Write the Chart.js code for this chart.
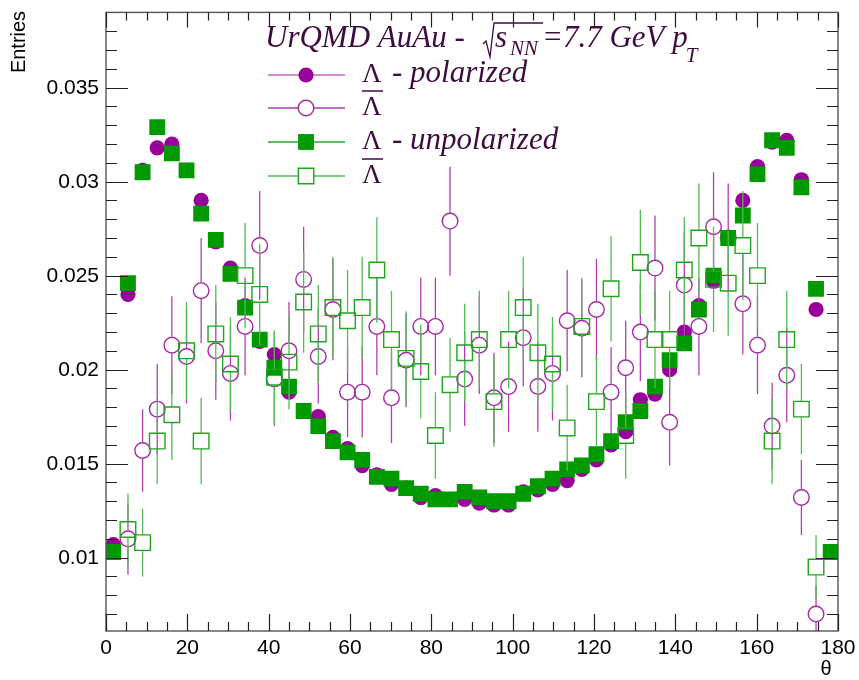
<!DOCTYPE html>
<html>
<head>
<meta charset="utf-8">
<script src="https://cdn.jsdelivr.net/npm/chart.js@4.4.0/dist/chart.umd.min.js"></script>
<style>
  html, body { margin: 0; padding: 0; background: #fff; }
  #wrap { width: 859px; height: 680px; }
</style>
</head>
<body>
<div id="wrap"><canvas id="chart" width="859" height="680"></canvas></div>
<script>
// Histogram binning: 50 bins over theta 0..180
const nBins = 50
const thetaMin = 0
const thetaMax = 180

// Lambda, polarized (filled circles)
const lambdaPol = [
  0.0107, 0.0240, 0.0306, 0.0318, 0.0320, 0.0306, 0.0290, 0.0268, 0.0254, 0.0234,
  0.0215, 0.0208, 0.0188, 0.0178, 0.0175, 0.0164, 0.0158, 0.0149, 0.0144, 0.0139,
  0.0137, 0.0132, 0.0133, 0.0131, 0.0131, 0.0129, 0.0128, 0.0128, 0.0135, 0.0136,
  0.0139, 0.0141, 0.0147, 0.0152, 0.0160, 0.0167, 0.0184, 0.0187, 0.0200, 0.0220,
  0.0234, 0.0247, 0.0270, 0.0290, 0.0308, 0.0321, 0.0322, 0.0301, 0.0232, 0.0103
]

// Anti-lambda, polarized (open circles); edge bins are empty
const antiLambdaPol = [
  null, 0.0110, 0.0157, 0.0179, 0.0213, 0.0207, 0.0242, 0.0210, 0.0198, 0.0223,
  0.0266, 0.0195, 0.0210, 0.0248, 0.0207, 0.0232, 0.0188, 0.0188, 0.0223, 0.0185,
  0.0205, 0.0223, 0.0223, 0.0279, 0.0195, 0.0213, 0.0185, 0.0191, 0.0217, 0.0191,
  0.0198, 0.0226, 0.0222, 0.0232, 0.0188, 0.0201, 0.0220, 0.0254, 0.0172, 0.0245,
  0.0223, 0.0276, 0.0270, 0.0235, 0.0213, 0.0170, 0.0197, 0.0132, 0.0070, null
]
const antiLambdaPolErr = [
  0, 0.0019, 0.0022, 0.0024, 0.0026, 0.0025, 0.0028, 0.0026, 0.0025, 0.0026,
  0.0029, 0.0025, 0.0026, 0.0028, 0.0025, 0.0027, 0.0024, 0.0024, 0.0026, 0.0024,
  0.0025, 0.0026, 0.0026, 0.0029, 0.0025, 0.0026, 0.0024, 0.0024, 0.0026, 0.0024,
  0.0025, 0.0027, 0.0026, 0.0027, 0.0024, 0.0025, 0.0026, 0.0028, 0.0023, 0.0028,
  0.0026, 0.0029, 0.0029, 0.0027, 0.0026, 0.0023, 0.0025, 0.0020, 0.0015, 0
]

// Lambda, unpolarized (filled squares)
const lambdaUnpol = [
  0.0103, 0.0246, 0.0305, 0.0329, 0.0315, 0.0306, 0.0283, 0.0269, 0.0251, 0.0233,
  0.0216, 0.0201, 0.0191, 0.0178, 0.0170, 0.0162, 0.0156, 0.0152, 0.0143, 0.0142,
  0.0137, 0.0134, 0.0131, 0.0131, 0.0135, 0.0132, 0.0130, 0.0130, 0.0134, 0.0138,
  0.0142, 0.0147, 0.0149, 0.0155, 0.0162, 0.0172, 0.0178, 0.0191, 0.0205, 0.0214,
  0.0232, 0.0250, 0.0270, 0.0282, 0.0304, 0.0322, 0.0318, 0.0297, 0.0243, 0.0103
]

// Anti-lambda, unpolarized (open squares); edge bins are empty
const antiLambdaUnpol = [
  null, 0.0115, 0.0108, 0.0162, 0.0176, 0.0210, 0.0162, 0.0219, 0.0203, 0.0250,
  0.0240, 0.0196, 0.0204, 0.0236, 0.0219, 0.0233, 0.0226, 0.0233, 0.0253, 0.0216,
  0.0206, 0.0199, 0.0165, 0.0192, 0.0209, 0.0216, 0.0183, 0.0216, 0.0233, 0.0209,
  0.0203, 0.0169, 0.0223, 0.0183, 0.0243, 0.0165, 0.0257, 0.0216, 0.0216, 0.0253,
  0.0270, 0.0248, 0.0246, 0.0266, 0.0250, 0.0162, 0.0216, 0.0179, 0.0095, null
]
const antiLambdaUnpolErr = [
  0, 0.0019, 0.0018, 0.0023, 0.0024, 0.0026, 0.0023, 0.0026, 0.0025, 0.0028,
  0.0027, 0.0025, 0.0025, 0.0027, 0.0026, 0.0027, 0.0027, 0.0027, 0.0028, 0.0026,
  0.0025, 0.0025, 0.0023, 0.0025, 0.0026, 0.0026, 0.0024, 0.0026, 0.0027, 0.0026,
  0.0025, 0.0023, 0.0026, 0.0024, 0.0028, 0.0023, 0.0028, 0.0026, 0.0026, 0.0028,
  0.0029, 0.0028, 0.0028, 0.0029, 0.0028, 0.0023, 0.0026, 0.0024, 0.0017, 0
]

// Axis ticks and labels
const yMajorTicks = [0.01, 0.015, 0.02, 0.025, 0.03, 0.035]
const yTickLabels = ['0.01', '0.015', '0.02', '0.025', '0.03', '0.035']
const xMajorTicks = [0, 20, 40, 60, 80, 100, 120, 140, 160, 180]
const xTickLabels = ['0', '20', '40', '60', '80', '100', '120', '140', '160', '180']
const yRange = [0.0061, 0.0390]

const legendLabels = ['- polarized', '', '- unpolarized', '']
const legendBar = [false, true, false, true]

const purple = '#990099'
const purpleLine = '#a52aa5'
const green = '#009900'
const greenLine = '#22a322'
const textColor = '#3f0c3f'

const binWidth = (thetaMax - thetaMin) / nBins
const centers = Array.from({ length: nBins }, (_, i) => thetaMin + binWidth * (i + 0.5))
const toPoints = vals => vals.map((v, i) => ({ x: centers[i], y: v }))

// ROOT-like frame, ticks, error bars and legend
const rootStyle = {
  id: 'rootStyle',
  beforeDatasetDraw(chart, args) {
    const ds = chart.data.datasets[args.index]
    if (!ds.errors) return
    const ctx = chart.ctx
    const xs = chart.scales.x
    const ys = chart.scales.y
    const a = chart.chartArea
    ctx.save()
    ctx.beginPath()
    ctx.rect(a.left, a.top, a.right - a.left, a.bottom - a.top)
    ctx.clip()
    ctx.strokeStyle = ds.errorColor
    ctx.lineWidth = 1.3
    ctx.beginPath()
    ds.data.forEach((p, i) => {
      if (p.y === null || !ds.errors[i]) return
      const px = xs.getPixelForValue(p.x)
      const py = ys.getPixelForValue(p.y)
      const top = ys.getPixelForValue(p.y + ds.errors[i])
      const bot = ys.getPixelForValue(p.y - ds.errors[i])
      if (top < py - ds.gap) { ctx.moveTo(px, top); ctx.lineTo(px, py - ds.gap) }
      if (bot > py + ds.gap) { ctx.moveTo(px, py + ds.gap); ctx.lineTo(px, bot) }
    })
    ctx.stroke()
    ctx.restore()
  },

  afterDraw(chart) {
    const ctx = chart.ctx
    const xs = chart.scales.x
    const ys = chart.scales.y
    const a = chart.chartArea
    ctx.save()

    // frame
    ctx.strokeStyle = '#555'
    ctx.lineWidth = 1.4
    ctx.strokeRect(a.left, a.top, a.right - a.left, a.bottom - a.top)

    // ticks
    ctx.strokeStyle = '#222'
    ctx.lineWidth = 1.2
    ctx.beginPath()
    for (let k = 7; k <= 38; k++) {
      const py = Math.round(ys.getPixelForValue(k / 1000)) + 0.5
      const major = k % 5 === 0
      ctx.moveTo(a.left, py); ctx.lineTo(a.left + (major ? 22 : 11), py)
      ctx.moveTo(a.right, py); ctx.lineTo(a.right - (major ? 22 : 11), py)
    }
    for (let t = 0; t <= 180; t += 5) {
      const px = Math.round(xs.getPixelForValue(t)) + 0.5
      const major = t % 20 === 0
      ctx.moveTo(px, a.bottom); ctx.lineTo(px, a.bottom - (major ? 17 : 9))
      ctx.moveTo(px, a.top); ctx.lineTo(px, a.top + (major ? 15 : 8))
    }
    ctx.stroke()

    // tick labels
    ctx.fillStyle = '#000'
    ctx.font = '21px "Liberation Sans", Arial, sans-serif'
    ctx.textAlign = 'right'
    ctx.textBaseline = 'middle'
    yMajorTicks.forEach((v, i) => ctx.fillText(yTickLabels[i], 99, ys.getPixelForValue(v) + 1))
    ctx.textAlign = 'center'
    ctx.textBaseline = 'top'
    xMajorTicks.forEach((v, i) => ctx.fillText(xTickLabels[i], xs.getPixelForValue(v), 638))

    // axis titles
    ctx.font = '20px "Liberation Sans", Arial, sans-serif'
    ctx.fillText('θ', 826, 659)
    ctx.save()
    ctx.translate(19, 42)
    ctx.rotate(-Math.PI / 2)
    ctx.font = '20px "Liberation Sans", Arial, sans-serif'
    ctx.textBaseline = 'middle'
    ctx.fillText('Entries', 0, 0)
    ctx.restore()

    // title
    ctx.fillStyle = textColor
    ctx.strokeStyle = textColor
    ctx.textAlign = 'left'
    ctx.textBaseline = 'alphabetic'
    const big = 'italic 31px "Liberation Serif", serif'
    const small = 'italic 21px "Liberation Serif", serif'
    ctx.font = big
    ctx.fillText('UrQMD AuAu -', 265, 47)
    ctx.lineWidth = 1.3
    ctx.beginPath()
    ctx.moveTo(483, 44); ctx.lineTo(486, 41); ctx.lineTo(490, 57); ctx.lineTo(494, 23); ctx.lineTo(543, 23)
    ctx.stroke()
    ctx.fillText('s', 495, 47)
    ctx.font = small
    ctx.fillText('NN', 510, 55)
    ctx.font = big
    ctx.fillText('=7.7 GeV p', 542, 47)
    const pEnd = 542 + ctx.measureText('=7.7 GeV p').width
    ctx.font = small
    ctx.fillText('T', pEnd - 2, 62)

    // legend
    const rowY = [75, 108, 142, 176]
    const ds = chart.data.datasets
    rowY.forEach((ry, i) => {
      const d = ds[i]
      ctx.strokeStyle = d.errorColor
      ctx.lineWidth = 1.3
      ctx.beginPath()
      ctx.moveTo(268, ry); ctx.lineTo(345, ry)
      ctx.stroke()
      ctx.beginPath()
      if (d.pointStyle === 'circle') {
        ctx.arc(306, ry, d.pointRadius, 0, Math.PI * 2)
      } else {
        const h = d.pointRadius * Math.SQRT1_2
        ctx.rect(306 - h, ry - h, 2 * h, 2 * h)
      }
      if (d.backgroundColor !== 'rgba(0,0,0,0)') {
        ctx.fillStyle = d.backgroundColor
        ctx.fill()
      } else {
        ctx.fillStyle = '#fff'
        ctx.fill()
        ctx.strokeStyle = d.borderColor
        ctx.lineWidth = d.borderWidth
        ctx.stroke()
      }
      ctx.fillStyle = textColor
      ctx.strokeStyle = textColor
      ctx.font = '27px "Liberation Serif", serif'
      const base = ry + 7
      ctx.fillText('Λ', 362, base)
      if (legendBar[i]) {
        ctx.lineWidth = 1.5
        ctx.beginPath()
        ctx.moveTo(362, base - 24); ctx.lineTo(383, base - 24)
        ctx.stroke()
      }
      if (legendLabels[i]) {
        ctx.font = 'italic 31px "Liberation Serif", serif'
        ctx.fillText(legendLabels[i], 392, base)
      }
    })
    ctx.restore()
  }
}

new Chart(document.getElementById('chart'), {
  type: 'scatter',
  data: {
    datasets: [
      {
        label: 'Λ - polarized',
        data: toPoints(lambdaPol),
        pointStyle: 'circle',
        pointRadius: 7.6,
        backgroundColor: purple,
        borderColor: purple,
        borderWidth: 0,
        errorColor: '#c466c4',
        order: 4
      },
      {
        label: 'anti-Λ polarized',
        data: toPoints(antiLambdaPol),
        errors: antiLambdaPolErr,
        gap: 8,
        pointStyle: 'circle',
        pointRadius: 7.8,
        backgroundColor: 'rgba(0,0,0,0)',
        borderColor: purpleLine,
        borderWidth: 1.4,
        errorColor: '#b040b0',
        order: 3
      },
      {
        label: 'Λ - unpolarized',
        data: toPoints(lambdaUnpol),
        pointStyle: 'rect',
        pointRadius: 11.2,
        backgroundColor: green,
        borderColor: green,
        borderWidth: 0,
        errorColor: '#2aa52a',
        order: 2
      },
      {
        label: 'anti-Λ unpolarized',
        data: toPoints(antiLambdaUnpol),
        errors: antiLambdaUnpolErr,
        gap: 8,
        pointStyle: 'rect',
        pointRadius: 11,
        backgroundColor: 'rgba(0,0,0,0)',
        borderColor: greenLine,
        borderWidth: 1.4,
        errorColor: '#55bb55',
        order: 1
      }
    ]
  },
  options: {
    responsive: false,
    animation: false,
    layout: { padding: { left: 106, right: 21, top: 7, bottom: 49 } },
    plugins: { legend: { display: false }, tooltip: { enabled: false } },
    scales: {
      x: { type: 'linear', min: thetaMin, max: thetaMax, display: false },
      y: { type: 'linear', min: yRange[0], max: yRange[1], display: false }
    }
  },
  plugins: [rootStyle]
})
</script>
</body>
</html>
